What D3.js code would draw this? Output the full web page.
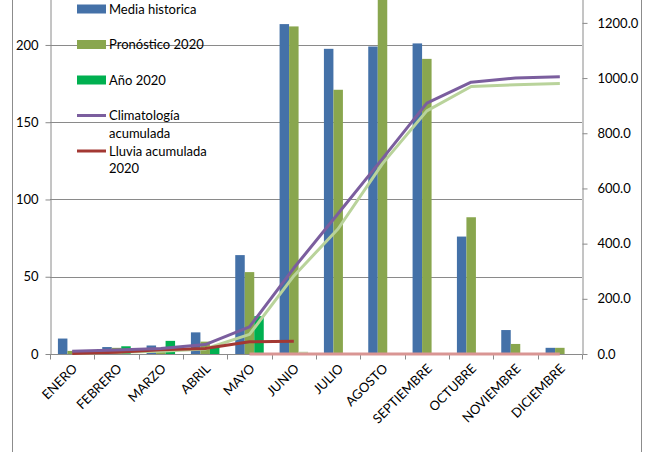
<!DOCTYPE html>
<html><head><meta charset="utf-8">
<script src="https://cdn.jsdelivr.net/npm/d3@7"></script>
<style>
html,body{margin:0;padding:0;background:#fff;}
svg{display:block;font-family:Lato,"Open Sans",sans-serif;}
</style></head>
<body><svg id="c" width="655" height="452"></svg>
<script>
const months = ["ENERO","FEBRERO","MARZO","ABRIL","MAYO","JUNIO","JULIO","AGOSTO","SEPTIEMBRE","OCTUBRE","NOVIEMBRE","DICIEMBRE"];
const mediaHistorica = [10, 4.5, 5.5, 14, 64, 213.5, 197.5, 199, 201, 76, 15.5, 4];
const pronostico2020 = [2, 4, 4, 8, 53, 212, 171, 236, 191, 88.5, 6.5, 4];
const anio2020 = [1.5, 5, 8.5, 5, 24.5, 1.5, null, null, null, null, null, null];
const climatologiaAcum = [10, 14.5, 20, 34, 98, 311.5, 509, 708, 909, 985, 1000.5, 1004.5];
const pronosticoAcum = [2, 6, 10, 18, 71, 283, 454, 690, 881, 969.5, 976, 980];
const lluviaAcum2020 = [1.5, 6.5, 15, 20, 44.5, 46, null, null, null, null, null, null];
const lluviaRestante = [null, null, null, null, 0, 0, 0, 0, 0, 0, 0, 0];
const leftTicks = [0, 50, 100, 150, 200];
const rightTicks = [0, 200, 400, 600, 800, 1000, 1200];
const legendItems = [
  {label:["Media historica"], type:"rect", color:"#4471A8"},
  {label:["Pronóstico 2020"], type:"rect", color:"#89A64E"},
  {label:["Año 2020"], type:"rect", color:"#00B050"},
  {label:["Climatología","acumulada"], type:"line", color:"#7B5E9E"},
  {label:["Lluvia acumulada","2020"], type:"line", color:"#A33833"}
];

const svg = d3.select("#c");
const L = 50, R = 582, B = 354, T = -32.3;
const x = d3.scaleBand().domain(months).range([L, R]).paddingInner(0).paddingOuter(0);
const yL = d3.scaleLinear().domain([0, 250]).range([B, T]);
const yR = d3.scaleLinear().domain([0, 1400]).range([B, T]);
const bw = 9.5;

// outer frame
svg.append("line").attr("x1",12.5).attr("x2",12.5).attr("y1",0).attr("y2",452).attr("stroke","#8c8c8c").attr("stroke-width",1);
svg.append("line").attr("x1",641.5).attr("x2",641.5).attr("y1",0).attr("y2",452).attr("stroke","#8c8c8c").attr("stroke-width",1);

// gridlines
svg.append("g").selectAll("line").data(leftTicks.filter(d=>d>0)).join("line")
  .attr("x1",L).attr("x2",R).attr("y1",d=>Math.round(yL(d))+0.5).attr("y2",d=>Math.round(yL(d))+0.5)
  .attr("stroke","#8a8a8a").attr("stroke-width",1);

// left axis (domain spans full plot height)
const gl = svg.append("g").attr("transform",`translate(${L+0.5},0)`)
  .call(d3.axisLeft(yL).tickValues(leftTicks).tickSize(5).tickSizeOuter(0).tickPadding(7).tickFormat(d3.format("d")));
gl.select(".domain").attr("stroke","#8a8a8a");
gl.selectAll(".tick line").attr("stroke","#8a8a8a");
gl.selectAll("text").attr("font-size",13).attr("fill","#000").attr("font-family","Lato");

// right axis
const gr = svg.append("g").attr("transform",`translate(${R+0.5},0)`)
  .call(d3.axisRight(yR).tickValues(rightTicks).tickSize(5).tickSizeOuter(0).tickPadding(10).tickFormat(d3.format(".1f")));
gr.select(".domain").attr("stroke","#8a8a8a");
gr.selectAll(".tick line").attr("stroke","#8a8a8a");
gr.selectAll("text").attr("font-size",13).attr("fill","#000").attr("font-family","Lato");

// bars
const series = [
  {vals: mediaHistorica, color:"#4471A8", off:-1.5},
  {vals: pronostico2020, color:"#89A64E", off:-0.5},
  {vals: anio2020, color:"#00B050", off:0.5}
];
series.forEach((s,si)=>{
  svg.append("g").selectAll("rect").data(months.map((m,i)=>({m, v:s.vals[i], i}))
    .filter(d=>d.v!=null)).join("rect")
    .attr("x", d=>x(d.m)+x.bandwidth()/2 + s.off*bw)
    .attr("width", bw)
    .attr("y", d=>yL(d.v))
    .attr("height", d=>B - yL(d.v))
    .attr("fill", d=> (si===2 && d.i===5) ? "#C3DDB0" : s.color);
});

// category axis
const gx = svg.append("g").attr("transform",`translate(0,${B+0.5})`);
gx.append("line").attr("x1",L).attr("x2",R).attr("stroke","#8a8a8a");
gx.selectAll(".tk").data(d3.range(months.length+1)).join("line")
  .attr("x1",i=>Math.round(L + i*x.bandwidth())+0.5).attr("x2",i=>Math.round(L + i*x.bandwidth())+0.5)
  .attr("y1",0).attr("y2",5).attr("stroke","#8a8a8a");
gx.selectAll("text").data(months).join("text")
  .attr("transform", d=>`translate(${x(d)+x.bandwidth()/2+6},${15}) rotate(-45)`)
  .attr("text-anchor","end").attr("font-size",13).attr("fill","#000").text(d=>d);

// lines
const lineGen = (sc)=> d3.line().defined(d=>d.v!=null).x(d=>x(d.m)+x.bandwidth()/2).y(d=>sc(d.v));
const lines = [
  {vals: lluviaRestante, color:"#D99593", w:3},
  {vals: pronosticoAcum, color:"#B9D39B", w:3},
  {vals: lluviaAcum2020, color:"#A33833", w:3},
  {vals: climatologiaAcum, color:"#7B5E9E", w:3}
];
lines.forEach(l=>{
  svg.append("path").datum(months.map((m,i)=>({m, v:l.vals[i]})))
    .attr("d", lineGen(yR)).attr("fill","none").attr("stroke",l.color)
    .attr("stroke-width",l.w).attr("stroke-linejoin","round");
});

// legend
const lg = svg.append("g");
const ly = [9, 44.5, 80, 115.5, 151];
legendItems.forEach((it,i)=>{
  const g = lg.append("g").attr("transform",`translate(77,${ly[i]})`);
  if(it.type==="rect") g.append("rect").attr("x",0).attr("y",-4.5).attr("width",29).attr("height",9).attr("fill",it.color);
  else g.append("line").attr("x1",0).attr("x2",29).attr("y1",0).attr("y2",0).attr("stroke",it.color).attr("stroke-width",3);
  it.label.forEach((t,j)=>{
    g.append("text").attr("x",32).attr("y",j*17.5).attr("dy","0.35em").attr("font-size",13).attr("fill","#000").text(t);
  });
});
</script></body></html>
